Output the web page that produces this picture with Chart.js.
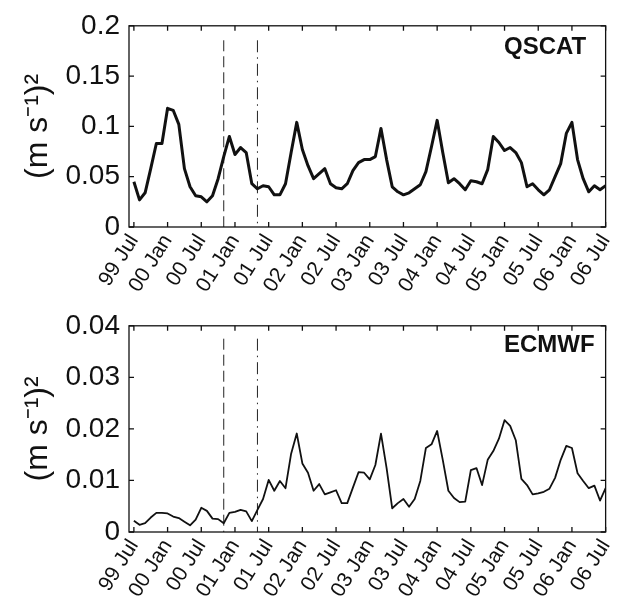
<!DOCTYPE html>
<html>
<head>
<meta charset="utf-8">
<script src="https://cdn.jsdelivr.net/npm/chart.js@4/dist/chart.umd.min.js"></script>
<style>
    body { margin: 0; background: #fff; }
    #wrap { position: relative; width: 630px; height: 597px; }
    canvas { position: absolute; left: 0; }
</style>
</head>
<body>
<div id="wrap">
    <canvas id="qscatChart" width="630" height="300" style="top:0"></canvas>
    <canvas id="ecmwfChart" width="630" height="297" style="top:300px"></canvas>
</div>
<script>
// Monthly values, 99 Jul (index 0) .. 06 Jul (index 84)
const tickLabels = ['99 Jul', '00 Jan', '00 Jul', '01 Jan', '01 Jul', '02 Jan', '02 Jul', '03 Jan',
    '03 Jul', '04 Jan', '04 Jul', '05 Jan', '05 Jul', '06 Jan', '06 Jul'];

const qscat = [
    0.045, 0.027, 0.034, 0.058, 0.083, 0.083, 0.118, 0.116, 0.102, 0.058,
    0.040, 0.031, 0.030, 0.025, 0.031, 0.048, 0.070, 0.090, 0.072, 0.079,
    0.074, 0.043, 0.038, 0.041, 0.040, 0.032, 0.032, 0.043, 0.074, 0.104,
    0.077, 0.061, 0.048, 0.053, 0.058, 0.043, 0.039, 0.038, 0.043, 0.056,
    0.064, 0.067, 0.067, 0.070, 0.098, 0.067, 0.040, 0.035, 0.032, 0.034,
    0.038, 0.042, 0.055, 0.080, 0.106, 0.074, 0.044, 0.048, 0.043, 0.037,
    0.046, 0.045, 0.043, 0.057, 0.090, 0.084, 0.076, 0.079, 0.074, 0.064,
    0.040, 0.043, 0.037, 0.032, 0.037, 0.050, 0.063, 0.093, 0.104, 0.067,
    0.048, 0.035, 0.041, 0.037, 0.041
];

const ecmwf = [
    0.0022, 0.0014, 0.0017, 0.0028, 0.0037, 0.0037, 0.0036, 0.0030, 0.0027, 0.0020,
    0.0013, 0.0024, 0.0047, 0.0041, 0.0026, 0.0025, 0.0017, 0.0037, 0.0039, 0.0043,
    0.0040, 0.0021, 0.0043, 0.0064, 0.0101, 0.0080, 0.0099, 0.0085, 0.0152, 0.0191,
    0.0133, 0.0115, 0.0080, 0.0093, 0.0073, 0.0077, 0.0081, 0.0056, 0.0056, 0.0086,
    0.0116, 0.0115, 0.0102, 0.0130, 0.0191, 0.0124, 0.0046, 0.0056, 0.0064, 0.0049,
    0.0064, 0.0099, 0.0163, 0.0170, 0.0196, 0.0140, 0.0080, 0.0066, 0.0058, 0.0059,
    0.0120, 0.0124, 0.0091, 0.0140, 0.0157, 0.0181, 0.0217, 0.0206, 0.0178, 0.0103,
    0.0091, 0.0073, 0.0075, 0.0078, 0.0084, 0.0105, 0.0140, 0.0167, 0.0163, 0.0114,
    0.0099, 0.0085, 0.0090, 0.0061, 0.0085
];

const qscatTicks = [0, 0.05, 0.1, 0.15, 0.2];
const ecmwfTicks = [0, 0.01, 0.02, 0.03, 0.04];

// month index of the two vertical markers (2000 Nov dashed, 2001 May dash-dot)
const dashedMonth = 16;
const dashDotMonth = 22;

const FONT = '"Liberation Sans", Arial, sans-serif';

// box + inward tick marks + panel name, matlab style
const framePlugin = {
    id: 'frame',
    afterDatasetsDraw(chart, args, opts) {
        const { ctx, chartArea: a, scales: { x, y } } = chart;
        ctx.save();
        ctx.strokeStyle = '#111';
        ctx.lineWidth = 1.3;
        ctx.strokeRect(a.left, a.top, a.right - a.left, a.bottom - a.top);
        ctx.beginPath();
        x.ticks.forEach(t => {
            const px = x.getPixelForValue(t.value);
            ctx.moveTo(px, a.bottom); ctx.lineTo(px, a.bottom - 5);
            ctx.moveTo(px, a.top); ctx.lineTo(px, a.top + 5);
        });
        y.ticks.forEach(t => {
            const py = y.getPixelForValue(t.value);
            ctx.moveTo(a.left, py); ctx.lineTo(a.left + 5, py);
            ctx.moveTo(a.right, py); ctx.lineTo(a.right - 5, py);
        });
        ctx.stroke();
        ctx.fillStyle = '#111';
        ctx.font = 'bold 24px ' + FONT;
        ctx.textAlign = 'left';
        ctx.textBaseline = 'middle';
        ctx.fillText(opts.label, a.left + 375, a.top + opts.labelDy);
        ctx.restore();
    }
};

function makePanel(id, values, yTicks, label, lineWidth, markTop, padTop, xHeight, labelDy) {
    const points = values.map((v, i) => ({ x: i, y: v }));
    // drawn top-down so the dash pattern starts at the upper end
    const marker = (m, dash) => ({
        data: [{ x: m, y: markTop }, { x: m, y: 0 }],
        borderColor: '#222',
        borderWidth: 1,
        borderDash: dash,
        pointRadius: 0
    });

    return new Chart(document.getElementById(id), {
        type: 'line',
        data: {
            datasets: [
                {
                    data: points,
                    borderColor: '#111',
                    borderWidth: lineWidth,
                    pointRadius: 0,
                    tension: 0,
                    borderJoinStyle: 'round'
                },
                marker(dashedMonth, [11, 5]),
                marker(dashDotMonth, [12, 5, 1.5, 5])
            ]
        },
        options: {
            responsive: false,
            animation: false,
            layout: { padding: { top: padTop, right: 12, left: 0, bottom: 0 } },
            plugins: {
                legend: { display: false },
                tooltip: { enabled: false },
                frame: { label: label, labelDy: labelDy }
            },
            scales: {
                x: {
                    type: 'linear',
                    min: -0.87,
                    max: 84,
                    grid: { display: false, drawTicks: false },
                    border: { display: false },
                    afterBuildTicks: scale => { scale.ticks = tickLabels.map((_, k) => ({ value: k * 6 })); },
                    afterFit: scale => { scale.height = xHeight; },
                    ticks: {
                        autoSkip: false,
                        minRotation: 58,
                        maxRotation: 58,
                        padding: 3,
                        color: '#111',
                        font: { family: FONT, size: 21 },
                        callback: v => tickLabels[Math.round(v / 6)]
                    }
                },
                y: {
                    min: 0,
                    max: yTicks[yTicks.length - 1],
                    grid: { display: false, drawTicks: false },
                    border: { display: false },
                    afterBuildTicks: scale => { scale.ticks = yTicks.map(v => ({ value: v })); },
                    afterFit: scale => { scale.width = 129; },
                    ticks: {
                        padding: 9,
                        color: '#111',
                        font: { family: FONT, size: 28 },
                        callback: v => String(v)
                    },
                    title: {
                        display: true,
                        text: '(m s\u207B\u00B9)\u00B2',
                        color: '#111',
                        font: { family: FONT, size: 32 },
                        padding: { top: 19, bottom: 0 }
                    }
                }
            }
        },
        plugins: [framePlugin]
    });
}

makePanel('qscatChart', qscat, qscatTicks, 'QSCAT', 3, 0.1856, 18, 73, 22);
makePanel('ecmwfChart', ecmwf, ecmwfTicks, 'ECMWF', 1.8, 0.0375, 25, 65, 20);
</script>
</body>
</html>
